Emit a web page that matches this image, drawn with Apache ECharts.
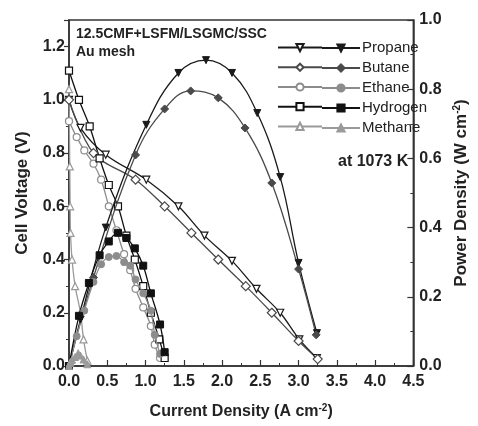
<!DOCTYPE html>
<html><head><meta charset="utf-8">
<script src="https://cdn.jsdelivr.net/npm/echarts@6/dist/echarts.min.js"></script>
<style>html,body{margin:0;padding:0;background:#fff}#c{width:478px;height:426px}</style>
</head><body><div id="c"></div>
<script>
// Voltage (V) data: [current density, voltage]
const propaneV = [[0,1.00],[0.15,0.895],[0.48,0.794],[1.01,0.70],[1.43,0.60],[1.77,0.49],[2.13,0.395],[2.45,0.29],[2.76,0.20],[3.01,0.10],[3.24,0.03]];
const butaneV  = [[0,1.00],[0.32,0.80],[0.87,0.70],[1.25,0.60],[1.60,0.50],[1.95,0.40],[2.31,0.30],[2.65,0.20],[3.00,0.094],[3.25,0.026]];
const ethaneV  = [[0,0.92],[0.10,0.86],[0.20,0.81],[0.32,0.76],[0.42,0.70],[0.52,0.60],[0.62,0.51],[0.72,0.42],[0.80,0.36],[0.87,0.29],[0.97,0.22],[1.07,0.15],[1.12,0.08],[1.19,0.03]];
const hydrogenV= [[0,1.11],[0.13,1.00],[0.27,0.90],[0.40,0.78],[0.52,0.68],[0.64,0.60],[0.75,0.49],[0.86,0.40],[0.97,0.30],[1.07,0.20],[1.18,0.10],[1.25,0.03]];
const methaneV = [[0,1.04],[0.01,0.75],[0.015,0.60],[0.02,0.50],[0.04,0.40],[0.08,0.30],[0.15,0.20],[0.19,0.10],[0.24,0.02]];
// Power density (W cm-2) data
const propaneP = [[0,0],[0.15,0.134],[0.48,0.40],[1.01,0.697],[1.43,0.847],[1.79,0.884],[2.13,0.847],[2.46,0.731],[2.76,0.546],[3.00,0.298],[3.24,0.095]];
const butaneP  = [[0,0],[0.32,0.256],[0.87,0.61],[1.25,0.743],[1.59,0.795],[1.95,0.775],[2.30,0.688],[2.65,0.529],[3.00,0.28],[3.23,0.09]];
const ethaneP  = [[0,0],[0.10,0.086],[0.20,0.16],[0.32,0.243],[0.42,0.294],[0.52,0.315],[0.62,0.318],[0.72,0.30],[0.80,0.29],[0.87,0.25],[0.97,0.21],[1.07,0.16],[1.12,0.09],[1.19,0.035]];
const hydrogenP= [[0,0],[0.13,0.145],[0.26,0.24],[0.40,0.32],[0.52,0.36],[0.64,0.385],[0.75,0.37],[0.86,0.34],[0.97,0.29],[1.07,0.21],[1.19,0.12],[1.25,0.04]];
const methaneP = [[0,0],[0.01,0.008],[0.02,0.012],[0.04,0.018],[0.08,0.026],[0.12,0.037],[0.15,0.03],[0.19,0.019],[0.24,0.005]];
const names = ['Propane','Butane','Ethane','Hydrogen','Methane'];
const xTicks = {min:0, max:4.5, interval:0.5};
const yLeft = {min:0, max:1.3, interval:0.2};
const yRight = {min:0, max:1.0, interval:0.2};

const colors = ['#1a1a1a','#4a4a4a','#8c8c8c','#111111','#9a9a9a'];
const tri = 'path://M0,0 L10,0 L5,9 Z';
const symbols = [[tri,tri],['diamond','diamond'],['circle','circle'],['rect','rect'],['triangle','triangle']];
const Vdata = [propaneV,butaneV,ethaneV,hydrogenV,methaneV];
const Pdata = [propaneP,butaneP,ethaneP,hydrogenP,methaneP];
const series = [];
names.forEach((n,i)=>{
  series.push({name:n+' V', type:'line', yAxisIndex:0, data:Vdata[i], smooth:0.35,
    symbol:symbols[i][0], symbolSize: i===1?9:7,
    lineStyle:{color:colors[i], width:1.3},
    itemStyle:{color:'#fff', borderColor:colors[i], borderWidth:1.2}, z: 3});
  series.push({name:n, type:'line', yAxisIndex:1, data:Pdata[i], smooth:0.4,
    symbol:symbols[i][1], symbolSize: i===1?8:7,
    lineStyle:{color:colors[i], width:1.3},
    itemStyle:{color:colors[i], borderColor:colors[i], borderWidth:1}, z: 4});
});
const fam = '"Liberation Sans", Arial, sans-serif';
const axisLbl = {fontFamily:fam, fontWeight:'bold', fontSize:16, color:'#222'};
const chart = echarts.init(document.getElementById('c'));
chart.setOption({
  animation:false,
  grid:{left:69, right:56, top:20, bottom:60, show:true, borderColor:'#333', borderWidth:1.5, backgroundColor:'transparent'},
  xAxis:{type:'value', min:xTicks.min, max:xTicks.max, interval:xTicks.interval,
    axisLine:{lineStyle:{color:'#333', width:1.5}}, axisTick:{inside:true, length:6, lineStyle:{color:'#333', width:1.2}},
    minorTick:{show:true, splitNumber:2, length:3, lineStyle:{color:'#333'}},
    splitLine:{show:false}, axisLabel:Object.assign({formatter:v=>v.toFixed(1), margin:8}, axisLbl),
    name:'Current Density (A cm{s|-2})', nameLocation:'middle', nameGap:37,
    nameTextStyle:{fontFamily:fam, fontWeight:'bold', fontSize:16, color:'#222', rich:{s:{fontSize:10, fontWeight:'bold', fontFamily:fam, verticalAlign:'top', padding:[0,0,8,0]}}}},
  yAxis:[{type:'value', position:'left', min:yLeft.min, max:yLeft.max, interval:yLeft.interval,
    axisLine:{show:true, lineStyle:{color:'#333', width:1.5}}, axisTick:{show:true, inside:false, length:5, lineStyle:{color:'#333', width:1.2}},
    minorTick:{show:true, splitNumber:2, length:3, lineStyle:{color:'#333'}},
    splitLine:{show:false}, axisLabel:Object.assign({formatter:v=>(v<=1.21)?v.toFixed(1):'', showMaxLabel:false, margin:4}, axisLbl),
    name:'Cell Voltage (V)', nameLocation:'middle', nameGap:38, nameRotate:90,
    nameTextStyle:{fontFamily:fam, fontWeight:'bold', fontSize:17, color:'#222'}},
   {type:'value', position:'right', min:yRight.min, max:yRight.max, interval:yRight.interval,
    axisLine:{show:true, lineStyle:{color:'#333', width:1.5}}, axisTick:{show:true, inside:true, length:6, lineStyle:{color:'#333', width:1.2}},
    minorTick:{show:true, splitNumber:2, length:3, lineStyle:{color:'#333'}},
    splitLine:{show:false}, axisLabel:Object.assign({formatter:v=>v.toFixed(1), margin:6}, axisLbl),
    name:'Power Density (W cm{s|-2})', nameLocation:'middle', nameGap:31, nameRotate:90,
    nameTextStyle:{fontFamily:fam, fontWeight:'bold', fontSize:17, color:'#222', rich:{s:{fontSize:10, fontWeight:'bold', fontFamily:fam, verticalAlign:'top', padding:[0,0,8,0]}}}}],
  legend:[{data:names.map(n=>n+' V'), orient:'vertical', left:272, top:38, itemWidth:44, itemHeight:9, itemGap:10.5,
      formatter:()=>'', textStyle:{fontSize:1}, selectedMode:false},
    {data:names, orient:'vertical', left:316, top:33, itemWidth:38, itemHeight:9, itemGap:0, selectedMode:false,
      textStyle:{fontFamily:fam, fontSize:15, lineHeight:20, color:'#222', padding:[0,0,0,-3]}}],
  graphic:[
    {type:'text', left:76, top:27, style:{text:'12.5CMF+LSFM/LSGMC/SSC', font:'bold 14px "Liberation Sans", Arial', fill:'#222'}},
    {type:'text', left:76, top:45, style:{text:'Au mesh', font:'bold 14px "Liberation Sans", Arial', fill:'#222'}},
    {type:'text', left:338, top:154, style:{text:'at 1073 K', font:'bold 16px "Liberation Sans", Arial', fill:'#222'}}
  ],
  series:series
});
</script></body></html>
